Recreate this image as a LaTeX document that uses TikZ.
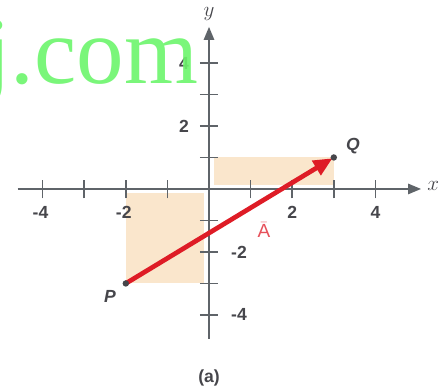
\documentclass[tikz,border=0pt]{standalone}
\usepackage{fontspec}
\setsansfont{Liberation Sans}
\newfontfamily\wmfont{Liberation Serif}
\usetikzlibrary{arrows.meta}
\definecolor{axisgray}{RGB}{95,100,105}
\definecolor{labelgray}{RGB}{70,70,75}
\definecolor{vecred}{RGB}{222,28,38}
\definecolor{alabel}{RGB}{230,80,90}
\definecolor{shadeor}{RGB}{250,230,204}
\definecolor{wmgreen}{RGB}{108,245,108}
\tikzset{
  axis/.style={draw=axisgray,line width=1.5pt,-{Triangle[length=9pt,width=7pt]}},
  tick/.style={draw=axisgray,line width=1.2pt},
  ticklabel/.style={text=labelgray,font=\sffamily\bfseries\fontsize{12}{14}\selectfont},
  ptlabel/.style={text=labelgray,font=\sffamily\bfseries\itshape\fontsize{12}{14}\selectfont},
  vec/.style={draw=vecred,line width=3.2pt,-{Triangle[length=13pt,width=11pt]},shorten >=1pt}
}
\begin{document}
\begin{tikzpicture}[x=1cm,y=0.757cm]
	  \useasboundingbox (-5.024,-6.286) rectangle (5.745,6.0);
	  % shaded boxes
	  \fill[shadeor] (-2,-3) rectangle (-0.12,-0.12);
	  \fill[shadeor] (0.12,0.12) rectangle (3,1);
	  % axes
	  \coordinate (xmin) at (-4.6,0);
	  \coordinate (xmax) at (5.1,0);
	  \coordinate (ymin) at (0,-4.75);
	  \coordinate (ymax) at (0,5.15);
	  \draw[axis] (xmin) -- (xmax);
	  \draw[axis] (ymin) -- (ymax);
	  \node[font=\fontsize{15}{17}\selectfont,text=labelgray] (xl) at (5.39,0.1) {$x$};
	  \node[font=\fontsize{15}{17}\selectfont,text=labelgray] (yl) at (0,5.56) {$y$};
	  % ticks on x
	  \draw[tick] (-4,-0.3) -- (-4,0.3);
	  \draw[tick] (-3,-0.3) -- (-3,0.3);
	  \draw[tick] (-2,-0.3) -- (-2,0.3);
	  \draw[tick] (-1,-0.3) -- (-1,0.3);
	  \draw[tick] (1,-0.3) -- (1,0.3);
	  \draw[tick] (2,-0.3) -- (2,0.3);
	  \draw[tick] (3,-0.3) -- (3,0.3);
	  \draw[tick] (4,-0.3) -- (4,0.3);
	  % ticks on y
	  \draw[tick] (-0.22,4) -- (0.22,4);
	  \draw[tick] (-0.22,3) -- (0.22,3);
	  \draw[tick] (-0.22,2) -- (0.22,2);
	  \draw[tick] (-0.22,1) -- (0.22,1);
	  \draw[tick] (-0.22,-1) -- (0.22,-1);
	  \draw[tick] (-0.22,-2) -- (0.22,-2);
	  \draw[tick] (-0.22,-3) -- (0.22,-3);
	  \draw[tick] (-0.22,-4) -- (0.22,-4);
	  % tick labels
	  \node[ticklabel] (xm4) at (-4.05,-0.75) {-4};
	  \node[ticklabel] (xm2) at (-2.05,-0.75) {-2};
	  \node[ticklabel] (xp2) at (2,-0.75) {2};
	  \node[ticklabel] (xp4) at (4,-0.75) {4};
	  \node[ticklabel] (yp4) at (-0.6,4) {4};
	  \node[ticklabel] (yp2) at (-0.6,2) {2};
	  \node[ticklabel] (ym2) at (0.72,-2) {-2};
	  \node[ticklabel] (ym4) at (0.72,-4) {-4};
	  % the vector
	  \coordinate (P) at (-2,-3);
	  \coordinate (Q) at (3,1);
	  \draw[vec] (P) -- (Q);
	  \fill[labelgray] (P) circle (2.2pt);
	  \fill[labelgray] (Q) circle (2.2pt);
	  \node[ptlabel] (pl) at (-2.38,-3.4) {P};
	  \node[ptlabel] (ql) at (3.46,1.37) {Q};
	  \node[text=alabel,font=\sffamily\fontsize{13}{15}\selectfont] (al) at (1.32,-1.3) {$\bar{\mathsf{A}}$};
	  % caption
	  \node[text=labelgray,font=\sffamily\bfseries\fontsize{12}{14}\selectfont] (cap) at (0,-6.0) {(a)};
	  % watermark
	  \node[text=wmgreen,opacity=0.9,font=\wmfont\fontsize{65}{70}\selectfont,anchor=base east,inner sep=0pt] (wm) at (-0.26,3.35) {j.com};
\end{tikzpicture}
\end{document}
